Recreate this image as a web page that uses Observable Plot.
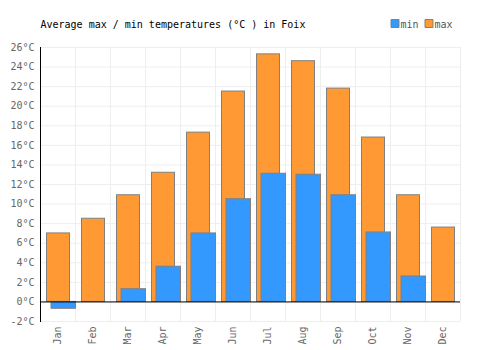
<!DOCTYPE html>
<html>
<head>
<meta charset="utf-8">
<script src="https://cdn.jsdelivr.net/npm/d3@7"></script>
<script src="https://cdn.jsdelivr.net/npm/@observablehq/plot@0.6"></script>
<style>
  html, body { margin: 0; padding: 0; background: #fff; }
</style>
</head>
<body>
<div id="chart"></div>
<script>
const months = ["Jan","Feb","Mar","Apr","May","Jun","Jul","Aug","Sep","Oct","Nov","Dec"];
const maxTemps = [7.0, 8.5, 10.9, 13.2, 17.3, 21.5, 25.3, 24.6, 21.8, 16.8, 10.9, 7.6];
const minTemps = [-0.7, null, 1.3, 3.6, 7.0, 10.5, 13.1, 13.0, 10.9, 7.1, 2.6, null];
const yTicks = d3.range(-2, 27, 2);
const seriesNames = ["min", "max"];
const seriesColors = ["#3399ff", "#ff9933"];
const title = "Average max / min temperatures (°C ) in Foix";

const W = 500, H = 350, ML = 40, MR = 40, MT = 47, MB = 29;
const bw = (W - ML - MR) / months.length;

const maxData = months.map((m, i) => ({month: m, v: maxTemps[i]}));
const minData = months.map((m, i) => ({month: m, v: minTemps[i]})).filter(d => d.v != null);

const chart = Plot.plot({
  width: W, height: H,
  marginLeft: ML, marginRight: MR, marginTop: MT, marginBottom: MB,
  style: {fontFamily: "DejaVu Sans Mono", fontSize: "10px", background: "#fff"},
  x: {type: "band", domain: months, padding: 0, label: null},
  y: {domain: [-2, 26], label: null},
  marks: [
    Plot.gridY(yTicks, {stroke: "#eeeeee", strokeOpacity: 1}),
    Plot.ruleX(months, {x: d => d, dx: bw / 2, stroke: "#eeeeee", strokeOpacity: 1}),
    Plot.barY(maxData, {x: "month", y: "v", fill: seriesColors[1], stroke: "#808080", strokeWidth: 1, insetLeft: 6.5, insetRight: 5.5}),
    Plot.barY(minData, {x: "month", y: "v", fill: seriesColors[0], stroke: "#808080", strokeWidth: 1, insetLeft: 11, insetRight: -0.5}),
    Plot.ruleY([0], {stroke: "#000"}),
    Plot.frame({anchor: "left", stroke: "#000"}),
    Plot.axisY(yTicks, {tickSize: 0, tickPadding: 6, tickFormat: d => d + "°C", fill: "#666", fontSize: 10, label: null}),
    Plot.axisX({tickSize: 0, tickPadding: 5, tickRotate: -90, fill: "#666", fontSize: 10, label: null}),
    Plot.text([title], {frameAnchor: "top-left", dy: -23, textAnchor: "start", lineAnchor: "middle", fill: "#000", fontSize: 10}),
    Plot.dot([seriesNames[0]], {frameAnchor: "top-right", dx: -65.5, dy: -24, symbol: "square", r: 4.5, fill: seriesColors[0], stroke: "#808080", strokeWidth: 1}),
    Plot.text([seriesNames[0]], {frameAnchor: "top-right", dx: -60, dy: -23, textAnchor: "start", lineAnchor: "middle", fill: "#555", fontSize: 10}),
    Plot.dot([seriesNames[1]], {frameAnchor: "top-right", dx: -31.5, dy: -24, symbol: "square", r: 4.5, fill: seriesColors[1], stroke: "#808080", strokeWidth: 1}),
    Plot.text([seriesNames[1]], {frameAnchor: "top-right", dx: -26, dy: -23, textAnchor: "start", lineAnchor: "middle", fill: "#555", fontSize: 10})
  ]
});
document.getElementById("chart").appendChild(chart);
</script>
</body>
</html>
